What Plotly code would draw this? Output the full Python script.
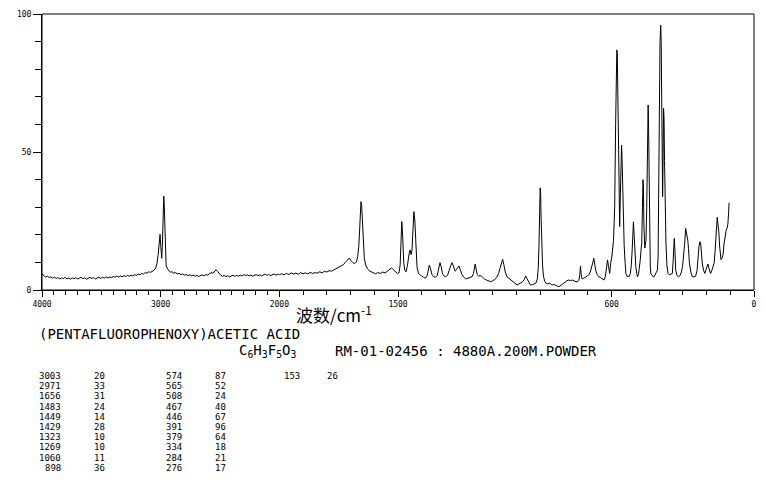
import plotly.graph_objects as go

# ---------------- spectrum data ----------------
wavenumber = [
    4000, 3985, 3970, 3955, 3940, 3925, 3910, 3895, 3880, 3865, 3850, 3835, 3820, 3805, 3790, 3775,
    3760, 3745, 3730, 3715, 3700, 3685, 3670, 3655, 3640, 3625, 3610, 3595, 3580, 3565, 3550, 3535,
    3520, 3505, 3490, 3475, 3460, 3445, 3430, 3415, 3400, 3385, 3370, 3355, 3340, 3325, 3310, 3295,
    3280, 3265, 3250, 3235, 3220, 3205, 3190, 3175, 3160, 3145, 3130, 3115, 3100, 3085, 3070, 3055,
    3042, 3032, 3022, 3014, 3008, 3005, 3001, 2996, 2991, 2986, 2981, 2977, 2974, 2970, 2965, 2960,
    2954, 2946, 2938, 2928, 2918, 2905, 2890, 2875, 2860, 2845, 2830, 2815, 2800, 2785, 2770, 2755,
    2740, 2725, 2710, 2695, 2680, 2665, 2650, 2635, 2620, 2605, 2590, 2575, 2560, 2545, 2532, 2520,
    2508, 2495, 2480, 2465, 2450, 2435, 2420, 2405, 2390, 2375, 2360, 2345, 2330, 2315, 2300, 2285,
    2270, 2255, 2240, 2225, 2210, 2195, 2180, 2165, 2150, 2135, 2120, 2105, 2090, 2075, 2060, 2045,
    2030, 2015, 2000,
    1990, 1980, 1970, 1960, 1950, 1940, 1930, 1920, 1910, 1900, 1890, 1880, 1870, 1860, 1850, 1840,
    1830, 1820, 1810, 1800, 1790, 1780, 1770, 1760, 1750, 1740, 1730, 1720, 1712, 1705, 1698, 1690,
    1682, 1675, 1670, 1665, 1661, 1658, 1656, 1653, 1650, 1646, 1642, 1636, 1628, 1618, 1606, 1595,
    1585, 1575, 1565, 1555, 1545, 1535, 1527, 1520, 1512, 1503, 1496, 1491, 1487, 1484, 1480, 1476,
    1471, 1466, 1461, 1456, 1452, 1449, 1445, 1441, 1437, 1433, 1429, 1425, 1420, 1414, 1408, 1400,
    1392, 1384, 1377, 1372, 1368, 1363, 1357, 1350, 1342, 1335, 1329, 1323, 1318, 1312, 1305, 1298,
    1291, 1284, 1278, 1272, 1266, 1259, 1253, 1247, 1243, 1237, 1230, 1222, 1215, 1205, 1195, 1188,
    1182, 1178, 1175, 1171, 1166, 1160, 1154, 1148, 1142, 1135, 1127, 1118, 1109, 1100, 1092, 1084,
    1076, 1069, 1063, 1059, 1054, 1048, 1041, 1033, 1025, 1016, 1007, 998, 990, 982, 975, 968,
    962, 957, 950, 942, 934, 926, 919, 913, 909, 906, 903, 901, 899, 897, 894, 891,
    887, 882, 876, 868, 860, 852, 844, 836, 828, 821, 813, 805, 797, 789, 781, 773,
    765, 757, 750, 744, 738, 734, 731, 728, 724, 718, 711, 704, 697, 690, 684, 679,
    675, 671, 667, 661, 654, 646, 639, 632, 626, 621, 617, 613, 608, 604, 599, 592,
    587, 583, 580, 578, 576, 574, 572, 569, 566, 563, 560, 558, 556, 553, 550, 547,
    543, 540, 535, 530, 526, 521, 517, 513, 510, 508, 505, 502, 498, 494, 491, 487,
    483, 479, 476, 473, 470, 468, 466, 464, 462, 460, 457, 455, 452, 450, 448, 446,
    444, 442, 440, 437, 435, 430, 425, 421, 416, 411, 407, 404, 401, 399, 396, 393,
    391, 389, 387, 385, 383, 381, 379, 377, 374, 371, 367, 362, 357, 350, 344, 341,
    338, 336, 333, 330, 324, 318, 312, 306, 301, 296, 292, 288, 285, 282, 279, 276,
    272, 266, 260, 253, 246, 240, 236, 232, 228, 225, 221, 218, 212, 207, 202, 197,
    194, 190, 186, 183, 178, 172, 168, 164, 161, 158, 155, 152, 148, 145, 142, 139,
    135, 130, 126, 122, 117, 113, 110, 107, 105,
]

intensity = [
    5.8, 5.1, 4.7, 5.0, 4.5, 4.8, 4.3, 4.6, 4.2, 4.5, 4.0, 4.4, 4.1, 4.6, 4.0, 4.3,
    3.9, 4.4, 4.1, 4.5, 4.0, 4.3, 4.6, 4.1, 4.4, 3.9, 4.3, 4.6, 4.2, 4.5, 4.0, 4.4,
    4.7, 4.2, 4.6, 4.3, 4.8, 4.4, 4.7, 4.5, 4.9, 4.6, 5.0, 4.7, 5.1, 4.8, 5.2, 4.9,
    5.3, 5.0, 5.4, 5.1, 5.6, 5.3, 5.8, 5.5, 6.0, 5.8, 6.3, 6.1, 6.6, 6.4, 6.9, 7.2,
    8.0, 9.5, 12.5, 16.0, 19.0, 20.2, 17.0, 12.0, 11.5, 15.7, 22.0, 30.0, 34.0, 31.0, 21.0, 12.5,
    8.8, 8.0, 7.2, 6.8, 6.5, 6.6, 6.1, 6.3, 5.9, 6.0, 5.6, 5.8, 5.4, 5.6, 5.2, 5.5,
    5.1, 5.4, 5.0, 5.3, 4.9, 5.2, 5.5, 5.1, 5.6, 5.4, 5.9, 6.3, 6.1, 6.8, 7.3, 6.7,
    5.9, 5.4, 5.0, 5.3, 4.8, 5.2, 4.7, 5.1, 5.4, 4.9, 5.3, 5.0, 5.4, 5.1, 5.6, 5.2,
    5.5, 5.1, 5.4, 5.0, 5.3, 5.6, 5.2, 5.5, 5.1, 5.4, 5.8, 5.3, 5.6, 5.2, 5.5, 5.8,
    5.4, 5.7, 5.5,
    5.9, 5.5, 6.0, 5.6, 6.2, 5.8, 6.1, 5.7, 6.3, 5.9, 6.2, 5.8, 6.4, 6.0, 6.3, 6.1,
    6.6, 6.2, 6.8, 6.5, 7.0, 6.8, 7.3, 7.6, 8.0, 8.5, 9.2, 10.2, 11.2, 11.6, 10.6, 9.9,
    9.6, 10.2, 12.0, 16.0, 23.0, 29.0, 32.0, 30.5, 24.0, 16.0, 11.5, 9.0, 7.6, 6.8, 6.3, 5.9,
    6.3, 6.0, 6.5, 6.2, 6.8, 7.4, 8.0, 7.4, 6.6, 6.0, 6.2, 9.0, 18.0, 24.8, 19.0, 10.0,
    7.0, 6.6, 8.5, 12.0, 13.8, 14.5, 12.8, 14.5, 21.0, 28.4, 25.0, 15.0, 8.5, 6.0, 5.4, 5.0,
    4.6, 4.3, 5.2, 7.2, 9.0, 7.8, 5.6, 4.8, 4.6, 5.2, 7.6, 9.9, 8.4, 5.8, 5.0, 4.8,
    5.4, 7.6, 8.8, 9.9, 8.4, 6.8, 7.5, 8.3, 8.7, 7.2, 5.5, 4.6, 4.0, 4.3, 4.6, 4.8,
    6.0, 7.8, 9.4, 7.6, 5.6, 5.0, 5.2, 5.0, 4.4, 3.9, 3.6, 3.4, 3.0, 3.4, 3.8, 4.6,
    6.0, 8.2, 10.5, 11.1, 9.2, 6.5, 4.8, 4.2, 3.8, 3.2, 2.6, 1.8, 2.2, 2.6, 3.0, 3.8,
    5.1, 4.2, 2.8, 1.8, 1.9, 2.2, 2.5, 4.0, 8.0, 16.0, 28.0, 37.0, 35.0, 26.0, 16.0, 9.0,
    5.0, 3.2, 2.4, 2.2, 2.5, 1.8, 2.0, 1.6, 1.4, 1.2, 1.8, 2.4, 3.0, 3.3, 3.6, 3.4,
    3.6, 3.1, 3.0, 3.0, 3.4, 5.5, 8.7, 5.5, 4.0, 4.2, 4.6, 4.8, 5.4, 6.5, 8.0, 10.0,
    11.5, 9.0, 7.2, 5.6, 4.8, 4.5, 4.0, 3.6, 5.0, 8.0, 10.9, 8.5, 6.0, 9.7, 12.0, 18.0,
    30.0, 60.0, 82.0, 87.0, 86.0, 70.0, 55.0, 40.0, 23.0, 35.0, 50.0, 52.5, 48.0, 35.0, 22.0, 16.0,
    10.0, 6.0, 5.0, 4.8, 4.9, 6.0, 9.0, 15.0, 22.0, 24.7, 20.0, 13.0, 8.5, 6.0, 4.8, 5.5,
    8.0, 11.0, 14.5, 17.0, 30.0, 40.0, 38.0, 24.0, 16.0, 15.2, 17.0, 18.0, 30.0, 48.0, 62.0, 67.0,
    58.0, 35.0, 17.0, 9.0, 6.0, 5.2, 4.8, 4.8, 5.5, 6.5, 7.2, 12.0, 40.0, 77.0, 90.0, 96.0,
    90.0, 70.0, 45.0, 33.8, 48.0, 65.8, 62.0, 47.0, 30.0, 17.0, 9.0, 6.0, 5.5, 5.8, 6.0, 10.0,
    16.0, 18.7, 14.0, 7.2, 5.2, 4.8, 5.2, 6.5, 8.5, 12.0, 17.0, 22.3, 21.0, 18.5, 18.0, 15.0,
    9.7, 6.5, 4.8, 4.8, 5.0, 7.0, 12.0, 15.7, 17.5, 17.0, 13.0, 9.7, 7.0, 6.0, 7.5, 9.0,
    9.4, 8.0, 6.5, 6.0, 7.0, 8.5, 9.7, 14.0, 20.0, 25.4, 26.3, 24.0, 21.0, 16.0, 12.0, 11.0,
    11.5, 13.0, 17.0, 20.0, 21.7, 22.5, 24.0, 28.0, 31.6,
]

# ---------------- peak table and texts ----------------
peak_wavenumber = ["3003", "2971", "1656", "1483", "1449", "1429", "1323", "1269", "1060", "898",
                   "574", "565", "508", "467", "446", "391", "379", "334", "284", "276",
                   "153"]
peak_intensity = ["20", "33", "31", "24", "14", "28", "10", "10", "11", "36",
                  "87", "52", "24", "40", "67", "96", "64", "18", "21", "17",
                  "26"]
compound_name = "(PENTAFLUOROPHENOXY)ACETIC ACID"
formula = "C<sub>6</sub>H<sub>3</sub>F<sub>5</sub>O<sub>3</sub>"
sample_info = "RM-01-02456 : 4880A.200M.POWDER"
x_title = "波数/cm<sup>-1</sup>"

x_ticks_left = [4000, 3000, 2000]
x_ticks_right = [1500, 600, 0]
y_ticks = [0, 50, 100]

# ---------------- geometry (page pixels; the page body has an 8px margin) ----------------
PAGE_W, PAGE_H = 765, 482
OFF = 8
W, H = PAGE_W - 2 * OFF, PAGE_H - 2 * OFF
L, R, T, B = 42, 754, 14, 290          # plot area in page pixels


def px(x):
    return (x - L) / (R - L)


def py(y):
    return (B - y) / (B - T)


split = 2000
hi_x = [w for w in wavenumber if w >= split]
hi_y = [i for w, i in zip(wavenumber, intensity) if w >= split]
lo_x = [w for w in wavenumber if w <= split]
lo_y = [i for w, i in zip(wavenumber, intensity) if w <= split]

line_style = dict(color="black", width=1)
tick_font = dict(family="DejaVu Sans Mono", size=8, color="black")

fig = go.Figure()
fig.add_trace(go.Scatter(x=hi_x, y=hi_y, mode="lines", line=line_style,
                         xaxis="x", yaxis="y", hoverinfo="skip", showlegend=False))
fig.add_trace(go.Scatter(x=lo_x, y=lo_y, mode="lines", line=line_style,
                         xaxis="x2", yaxis="y", hoverinfo="skip", showlegend=False))

axis_common = dict(showgrid=False, zeroline=False, showline=True, linecolor="black",
                   linewidth=1, ticks="outside", tickcolor="black",
                   tickfont=tick_font, fixedrange=True, automargin=False)

x_minor = dict(tickmode="linear", tick0=0, dtick=100, ticks="outside",
               ticklen=4, tickcolor="black")

fig.update_layout(
    width=W, height=H,
    margin=dict(l=L - OFF, r=(OFF + W) - R, t=T - OFF, b=(OFF + H) - B, pad=0),
    paper_bgcolor="white", plot_bgcolor="white",
    showlegend=False,
    xaxis=dict(domain=[0, 1 / 3], range=[4000, 2000], anchor="y",
               tickmode="array", tickvals=x_ticks_left,
               ticktext=[str(v) for v in x_ticks_left], ticklen=6,
               minor=x_minor, **axis_common),
    xaxis2=dict(domain=[1 / 3, 1], range=[2000, 0], anchor="y",
                tickmode="array", tickvals=x_ticks_right,
                ticktext=[str(v) for v in x_ticks_right], ticklen=6,
                minor=x_minor, **axis_common),
    yaxis=dict(range=[0, 100], anchor="x",
               tickmode="array", tickvals=y_ticks,
               ticktext=[str(v) for v in y_ticks], ticklen=8,
               minor=dict(tickmode="linear", tick0=0, dtick=10, ticks="outside",
                          ticklen=6, tickcolor="black"),
               **axis_common),
)

# frame around the plot area
fig.add_shape(type="rect", xref="paper", yref="paper", x0=0, x1=1, y0=0, y1=1,
              line=dict(color="black", width=1), fillcolor="rgba(0,0,0,0)", layer="above")

annotations = []
annotations.append(dict(text=x_title, x=px(334), y=py(314), xref="paper", yref="paper",
                        xanchor="center", yanchor="middle", showarrow=False,
                        font=dict(family="Noto Sans CJK SC", size=17, color="black")))

text_font = dict(family="DejaVu Sans Mono", size=14, color="black")
annotations.append(dict(text=compound_name, x=px(37), y=py(334), xref="paper", yref="paper",
                        xanchor="left", yanchor="middle", showarrow=False, font=text_font))
annotations.append(dict(text=formula, x=px(237), y=py(351), xref="paper", yref="paper",
                        xanchor="left", yanchor="middle", showarrow=False, font=text_font))
annotations.append(dict(text=sample_info, x=px(333), y=py(351), xref="paper", yref="paper",
                        xanchor="left", yanchor="middle", showarrow=False, font=text_font))

table_font = dict(family="DejaVu Sans Mono", size=9, color="black")
col_wn_right = [63, 184, 302]
col_int_left = [92, 213, 325]
for k, (wn, inten) in enumerate(zip(peak_wavenumber, peak_intensity)):
    col, row = divmod(k, 10)
    yrow = 376 + row * 10.2
    annotations.append(dict(text=wn, x=px(col_wn_right[col]), y=py(yrow), xref="paper",
                            yref="paper", xanchor="right", yanchor="middle",
                            showarrow=False, font=table_font))
    annotations.append(dict(text=inten, x=px(col_int_left[col]), y=py(yrow), xref="paper",
                            yref="paper", xanchor="left", yanchor="middle",
                            showarrow=False, font=table_font))

fig.update_layout(annotations=annotations)
fig.write_html("out.html")
